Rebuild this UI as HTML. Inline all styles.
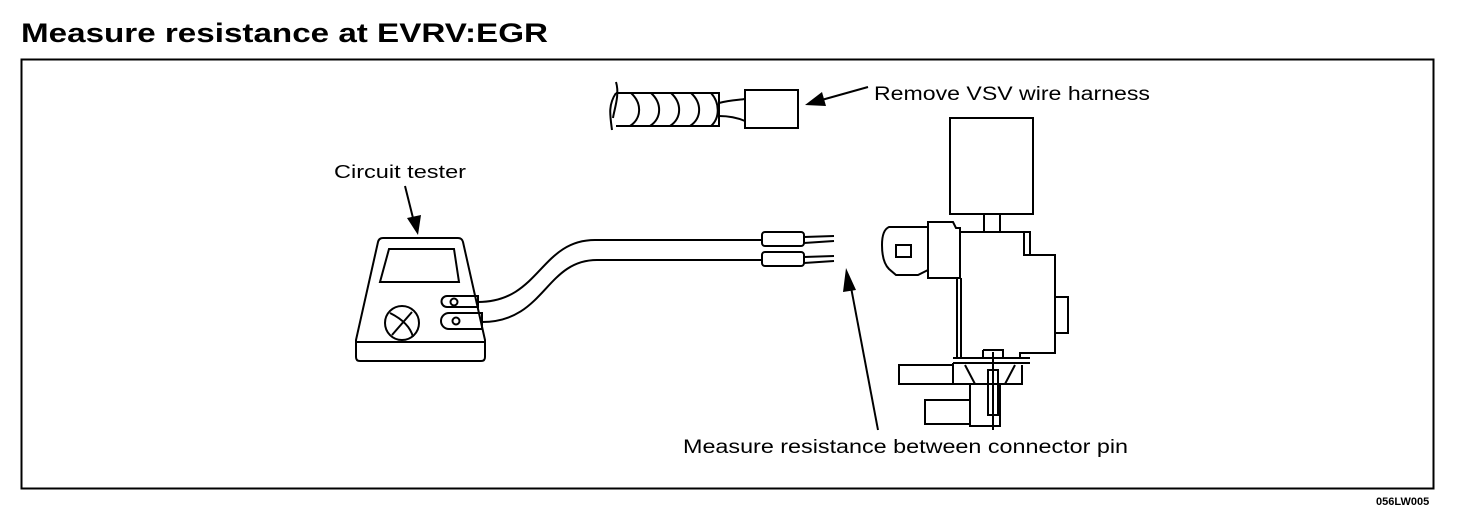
<!DOCTYPE html>
<html><head><meta charset="utf-8"><style>
body{margin:0;background:#fff;width:1472px;height:522px;overflow:hidden}
svg{display:block}
text{font-family:"Liberation Sans",Arial,sans-serif;fill:#000}
</style></head><body>
<svg width="1472" height="522" viewBox="0 0 1472 522" xmlns="http://www.w3.org/2000/svg">
<text x="21" y="42" font-size="27" font-weight="bold" textLength="527" lengthAdjust="spacingAndGlyphs">Measure resistance at EVRV:EGR</text>
<rect x="21.5" y="59.5" width="1412" height="429" fill="none" stroke="#000" stroke-width="2"/>
<text x="1376" y="505" font-size="11" font-weight="bold">056LW005</text>
<g fill="none" stroke="#000" stroke-width="2">
<!-- harness -->
<path d="M616,93 H719 V126 H616"/>
<path d="M616,93 C608,105 610,115 612,130"/>
<path d="M616,82 C620,95 614,110 613,118"/>
<path d="M631,93 C642,103 642,118 630,126"/>
<path d="M651,93 C662,103 662,118 650,126"/>
<path d="M671,93 C682,103 682,118 670,126"/>
<path d="M691,93 C702,103 702,118 690,126"/>
<path d="M711,93 C720,103 720,118 711,126"/>
<path d="M719,103 C730,100 738,100 745,99"/>
<path d="M719,116 C730,116 738,118 745,121"/>
<rect x="745" y="90" width="53" height="38"/>
<!-- tester -->
<path d="M383,238 H458 Q462,238 463,242 L485,340 L485,357 Q485,361 481,361 H360 Q356,361 356,357 L356,340 L378,242 Q379,238 383,238 Z"/>
<path d="M357,342 H484"/>
<path d="M389,249 H454 L459,282 H380 Z"/>
<circle cx="402" cy="323" r="17"/>
<path d="M390,313 C400,318 410,325 413,337"/>
<path d="M392,335 L412,312"/>
<path d="M447,296 H478 V307 H447 A5.5,5.5 0 0 1 447,296 Z"/>
<circle cx="454" cy="302" r="3.5"/>
<path d="M449,313 H482 V329 H449 A8,8 0 0 1 449,313 Z"/>
<circle cx="456" cy="321" r="3.5"/>
<path d="M478,302 C540,302 540,240 595,240 H762"/>
<path d="M482,322 C545,322 545,260 597,260 H762"/>
<rect x="762" y="232" width="42" height="14" rx="3"/>
<rect x="762" y="252" width="42" height="14" rx="3"/>
<path d="M804,237 L834,236 M804,243 L834,241 M804,257 L834,256 M804,263 L834,261"/>
<!-- VSV -->
<rect x="950" y="118" width="83" height="96"/>
<path d="M984,214 V232 M1000,214 V232"/>
<path d="M960,232 H1024 V255 H1055 V353 H1020 V358"/>
<path d="M1024,232 H1030 V255"/>
<path d="M1056,297 H1068 V333 H1056"/>
<path d="M928,222 H953 L956,228 H960 V278 H928 Z"/>
<path d="M928,227 H889 Q882,230 882,245 Q882,262 889,269 L896,275 H918 L928,270"/>
<rect x="896" y="245" width="15" height="12"/>
<path d="M957,278 V358 M961,278 V358"/>
<path d="M953,358 H1030 M953,363 H1030"/>
<rect x="899" y="365" width="54" height="19"/>
<path d="M953,363 V384 H1022 V365"/>
<rect x="925" y="400" width="45" height="24"/>
<path d="M970,384 V426 H1000 V384"/>
<path d="M983,350 H1003 V358"/>
<path d="M983,358 V350"/>
<rect x="988" y="370" width="10" height="45"/>
<path d="M993,352 V430"/>
<path d="M965,365 L975,384 M1015,365 L1005,384"/>
<!-- arrows -->
<path d="M868,87 L818,101"/>
<path d="M405,186 L414,222"/>
<path d="M878,430 L850,282"/>
</g>
<polygon points="805,105 822,92 826,106" fill="#000"/>
<polygon points="418,235 407,218 421,215" fill="#000"/>
<polygon points="846,268 843,292 856,290" fill="#000"/>
<text x="874" y="100" font-size="19" textLength="276" lengthAdjust="spacingAndGlyphs">Remove VSV wire harness</text>
<text x="334" y="178" font-size="18" textLength="132" lengthAdjust="spacingAndGlyphs">Circuit tester</text>
<text x="683" y="453" font-size="19" textLength="445" lengthAdjust="spacingAndGlyphs">Measure resistance between connector pin</text>
</svg>
</body></html>
